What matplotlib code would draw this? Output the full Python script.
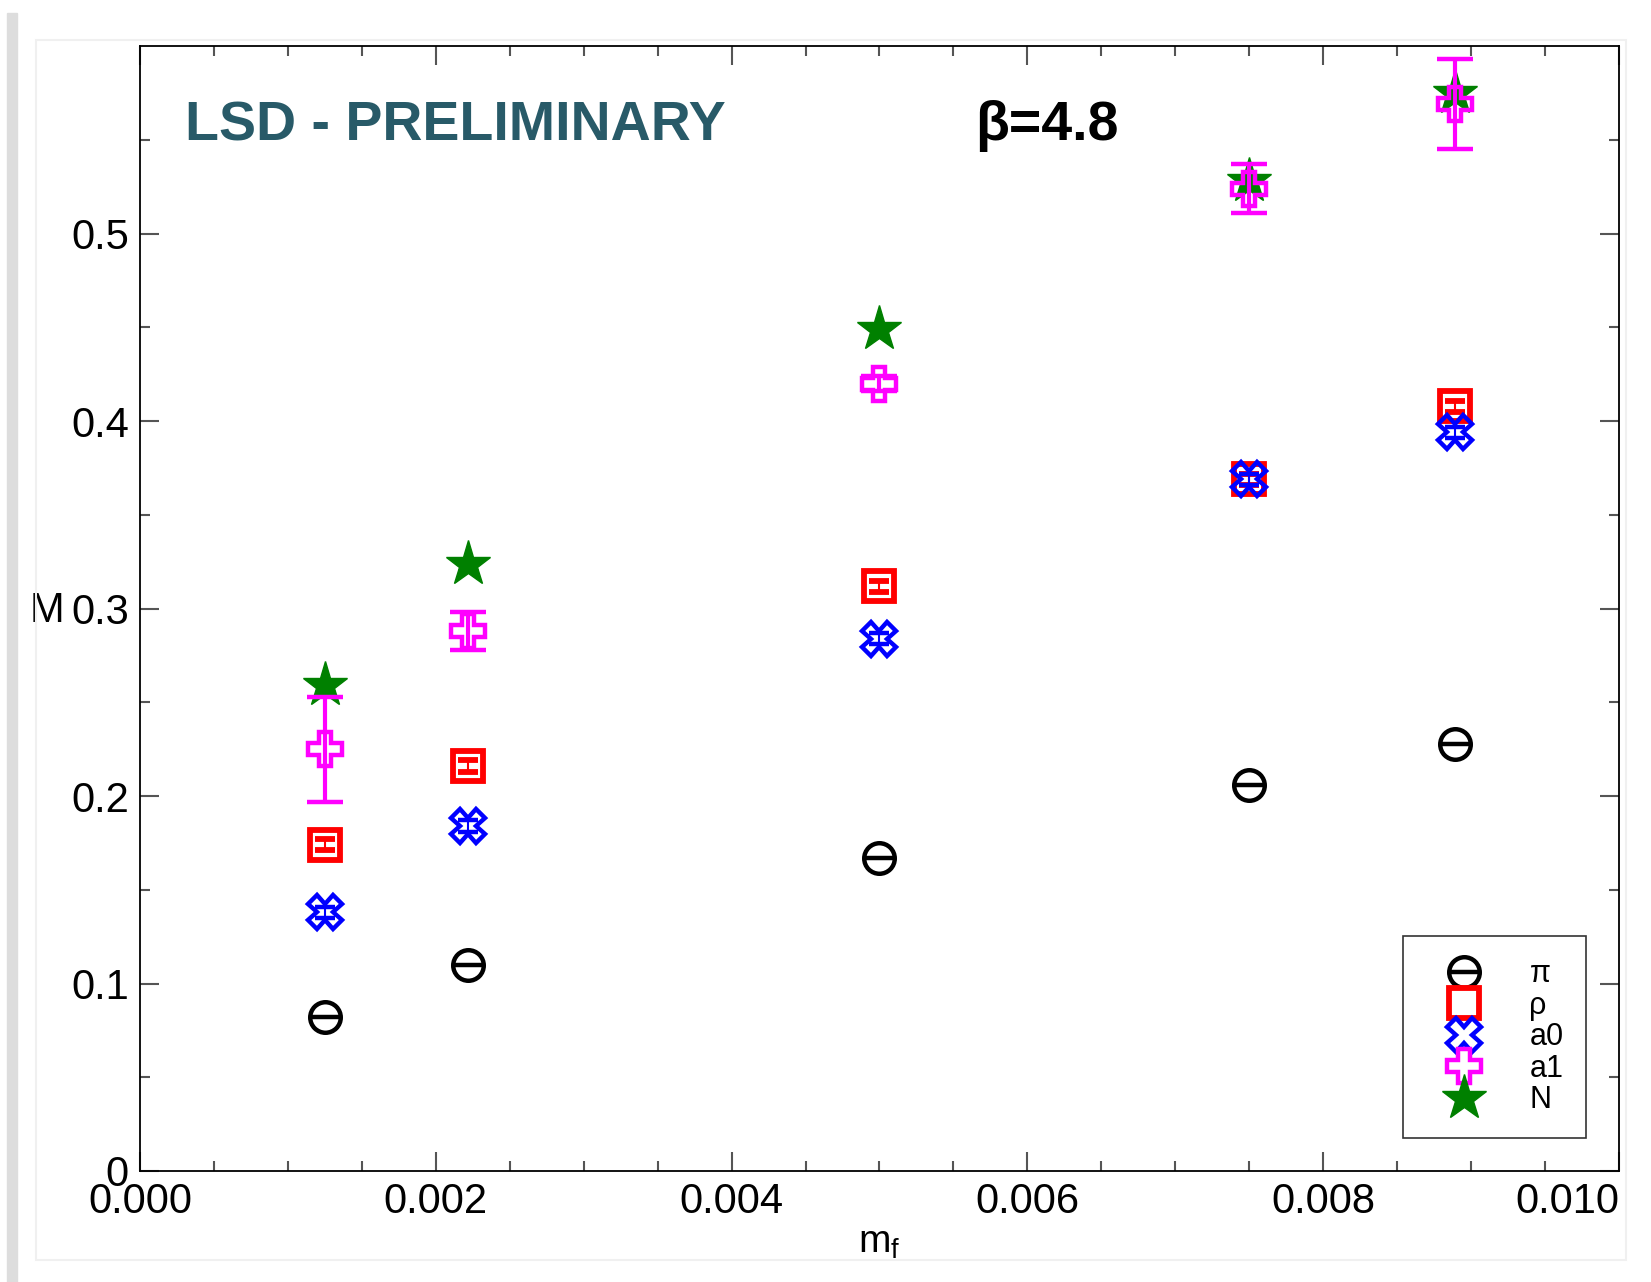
import matplotlib.pyplot as plt
import numpy as np
from matplotlib.patches import Rectangle
from matplotlib.lines import Line2D
from matplotlib.legend_handler import HandlerTuple

plt.rcParams["font.family"] = ["Liberation Sans", "DejaVu Sans"]

mf = [0.00125, 0.00222, 0.0050, 0.0075, 0.00889]
m_pi = [0.082, 0.110, 0.167, 0.206, 0.228]
m_rho = [0.174, 0.216, 0.312, 0.369, 0.408]
m_a0 = [0.138, 0.184, 0.284, 0.369, 0.394]
m_a1 = [0.225, 0.288, 0.420, 0.524, 0.569]
e_a1 = [0.028, 0.010, 0.004, 0.013, 0.024]
m_N = [0.259, 0.324, 0.449, 0.528, 0.575]
e_small = [0.003, 0.003, 0.003, 0.003, 0.003]

fig = plt.figure(figsize=(16.51, 12.82), dpi=100)
# page frame / shadow
fig.patches.append(Rectangle((0.004, 0.0), 0.006, 0.99, transform=fig.transFigure,
                             color="#dddddd", zorder=0))
fig.patches.append(Rectangle((0.022, 0.017), 0.963, 0.952, transform=fig.transFigure,
                             fill=False, ec="#f0f0f0", lw=1.5, zorder=0))
ax = fig.add_axes([0.0848, 0.0866, 0.8958, 0.8773])

ms = 22
mew = 3.2
# pi
ax.plot(mf, m_pi, "o", ms=ms, mfc="none", mec="black", mew=mew, zorder=3)
ax.plot(mf, m_pi, "_", ms=ms, mec="black", mew=mew, zorder=3)
# rho
ax.errorbar(mf, m_rho, yerr=e_small, fmt="s", ms=ms - 1, mfc="none", mec="red", mew=mew + 1,
            ecolor="red", elinewidth=1.5, capsize=7, capthick=2, zorder=3)
# a0
ax.errorbar(mf, m_a0, yerr=e_small, fmt="X", ms=ms + 2, mfc="none", mec="blue", mew=mew,
            ecolor="blue", elinewidth=1.5, capsize=7, capthick=1.5, zorder=3)
# a1
ax.errorbar(mf, m_a1, yerr=e_a1, fmt="P", ms=ms + 2, mfc="none", mec="magenta", mew=mew,
            ecolor="magenta", elinewidth=3, capsize=13, capthick=4, zorder=4)
# N
ax.errorbar(mf, m_N, yerr=e_small, fmt="*", ms=ms + 12, mfc="green", mec="green", mew=1,
            ecolor="green", elinewidth=1.5, capsize=7, zorder=3)

ax.set_xlim(0, 0.010)
ax.set_ylim(0, 0.6)
ax.set_xticks(np.arange(0, 0.0101, 0.002))
ax.set_xticklabels(["0.000", "0.002", "0.004", "0.006", "0.008", "0.010"])
ax.set_xticks(np.arange(0, 0.0101, 0.0005), minor=True)
ax.set_yticks([0, 0.1, 0.2, 0.3, 0.4, 0.5])
ax.set_yticklabels(["0", "0.1", "0.2", "0.3", "0.4", "0.5"])
ax.set_yticks(np.arange(0, 0.6, 0.05), minor=True)
ax.tick_params(which="both", direction="in", top=True, right=True, color="#555555",
               labelsize=30, pad=8)
ax.tick_params(which="major", length=14, width=1.5)
ax.tick_params(which="minor", length=7, width=1.5)
ax.get_xticklabels()[-1].set_horizontalalignment("right")
ax.get_xticklabels()[-1].set_x(0.01007)
for s in ax.spines.values():
    s.set_linewidth(1.3)

ax.set_xlabel("m$_\\mathregular{f}$", fontsize=28, labelpad=2)
ax.text(-0.051, 0.498, "M", transform=ax.transAxes, fontsize=30, ha="right", va="center")

ax.text(0.0306, 0.929, "LSD - PRELIMINARY", transform=ax.transAxes, fontsize=40,
        fontweight="bold", color="#285a68", va="center", ha="left")
ax.text(0.565, 0.929, "β=4.8", transform=ax.transAxes, fontsize=40,
        fontweight="bold", color="black", va="center", ha="left")

# legend proxies
h = [
    (Line2D([], [], marker="o", ls="none", ms=ms, mfc="none", mec="black", mew=mew),
     Line2D([], [], marker="_", ls="none", ms=ms, mec="black", mew=mew)),
    Line2D([], [], marker="s", ls="none", ms=ms - 1, mfc="none", mec="red", mew=mew + 1),
    Line2D([], [], marker="X", ls="none", ms=ms + 2, mfc="none", mec="blue", mew=mew),
    Line2D([], [], marker="P", ls="none", ms=ms + 2, mfc="none", mec="magenta", mew=mew),
    Line2D([], [], marker="*", ls="none", ms=ms + 12, mfc="green", mec="green"),
]
leg = ax.legend(h, ["π", "ρ", "a0", "a1", "N"], loc="lower right",
                bbox_to_anchor=(0.978, 0.029), fontsize=22, frameon=True,
                fancybox=False, edgecolor="black", handletextpad=0.9,
                labelspacing=0.05, borderpad=0.75, handlelength=2.5, borderaxespad=0,
                handler_map={tuple: HandlerTuple(ndivide=1, pad=0)})
leg.get_frame().set_linewidth(1.2)

fig.savefig("out.png", dpi=100)
